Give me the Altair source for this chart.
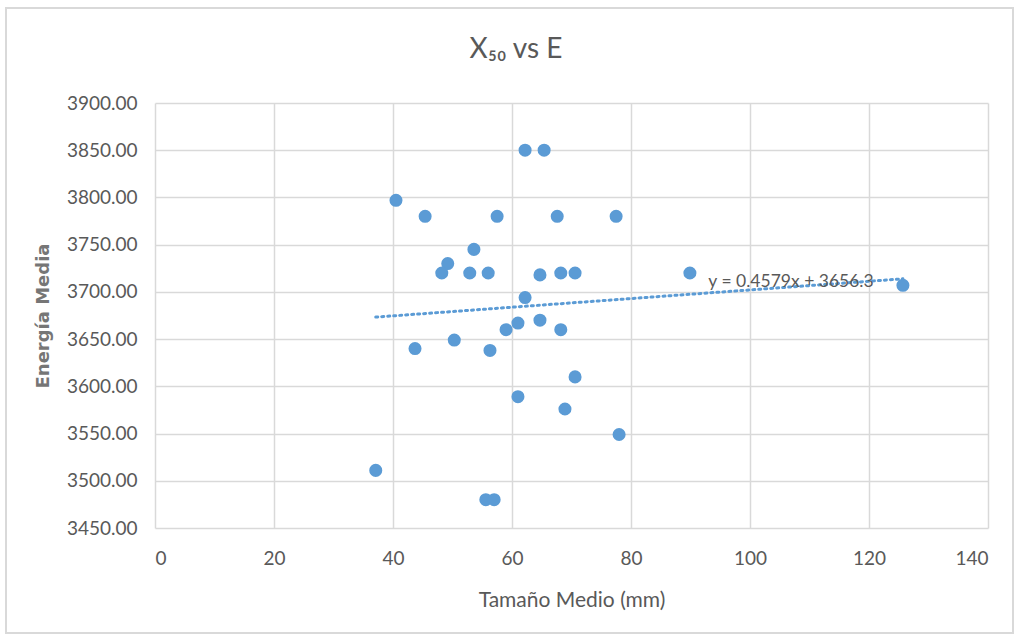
import altair as alt
import pandas as pd

tamano = [40.5, 45.4, 57.5, 67.6, 77.5, 62.2, 65.4, 53.6, 49.2, 48.2, 52.9, 56.0,
          64.7, 68.2, 70.6, 89.9, 62.2, 125.7, 61.0, 64.7, 59.0, 68.2, 43.7, 50.3,
          56.3, 70.6, 61.0, 68.9, 78.0, 37.1, 55.6, 57.0]
energia = [3797, 3780, 3780, 3780, 3780, 3850, 3850, 3745, 3730, 3720, 3720, 3720,
           3718, 3720, 3720, 3720, 3694, 3707, 3667, 3670, 3660, 3660, 3640, 3649,
           3638, 3610, 3589, 3576, 3549, 3511, 3480, 3480]

slope = 0.4579
intercept = 3656.3
eq_label = "y = 0.4579x + 3656.3"
eq_pos = [93, 3710]

title_text = "X₅₀ vs E"
x_title = "Tamaño Medio (mm)"
y_title = "Energía Media"

df = pd.DataFrame({"x": tamano, "y": energia})
xs = [min(tamano), max(tamano)]
trend = pd.DataFrame({"x": xs, "y": [slope * v + intercept for v in xs]})
lab = pd.DataFrame({"x": [eq_pos[0]], "y": [eq_pos[1]], "t": [eq_label]})
one = pd.DataFrame({"t": [title_text]})

FONT = "Lato"
GRAY = "#595959"
BLUE = "#5B9BD5"

xscale = alt.Scale(domain=[0, 140], nice=False, zero=False)
yscale = alt.Scale(domain=[3450, 3900], nice=False, zero=False)

xax = alt.X("x:Q", scale=xscale, title=x_title,
            axis=alt.Axis(values=list(range(0, 141, 20)), format="d", grid=True,
                          domain=False, ticks=False, labelPadding=21, titlePadding=21,
                          labelFontSize=19, titleFontSize=21, titleFontWeight="normal",
                          labelFont=FONT, titleFont=FONT, labelColor=GRAY, titleColor=GRAY))
yax = alt.Y("y:Q", scale=yscale, title=y_title,
            axis=alt.Axis(values=list(range(3450, 3901, 50)), format=".2f", grid=True,
                          domain=False, ticks=False, labelPadding=18, titlePadding=14,
                          labelFontSize=19, titleFontSize=18, titleFontWeight="bold",
                          labelFont=FONT, titleFont="DejaVu Sans", labelColor=GRAY,
                          titleColor="#767676"))

frame = alt.Chart(one).mark_rect(
    filled=False, stroke="#d9d9d9", strokeWidth=2
).encode(x=alt.value(-149), x2=alt.value(858), y=alt.value(-95), y2=alt.value(530))

title = alt.Chart(one).mark_text(
    font=FONT, fontSize=28, color=GRAY, align="center", baseline="middle"
).encode(x=alt.value(361), y=alt.value(-53), text="t:N")

points = alt.Chart(df).mark_circle(size=170, color=BLUE, opacity=1).encode(x=xax, y=yax)

line = alt.Chart(trend).mark_line(
    color=BLUE, strokeWidth=3, strokeDash=[2, 4], strokeCap="round"
).encode(x=alt.X("x:Q", scale=xscale), y=alt.Y("y:Q", scale=yscale))

text = alt.Chart(lab).mark_text(
    align="left", baseline="middle", font=FONT, fontSize=17.5, color=GRAY
).encode(x=alt.X("x:Q", scale=xscale), y=alt.Y("y:Q", scale=yscale), text="t:N")

chart = alt.layer(frame, title, points, line, text).properties(
    width=833, height=425,
    background="white",
    autosize=alt.AutoSizeParams(type="none"),
    padding={"left": 155, "top": 103, "right": 32, "bottom": 110},
).configure_axis(
    gridColor="#d9d9d9", gridWidth=1.5
).configure_view(stroke=None)

chart.save("out.html", embed_options={"renderer": "svg", "actions": False})
